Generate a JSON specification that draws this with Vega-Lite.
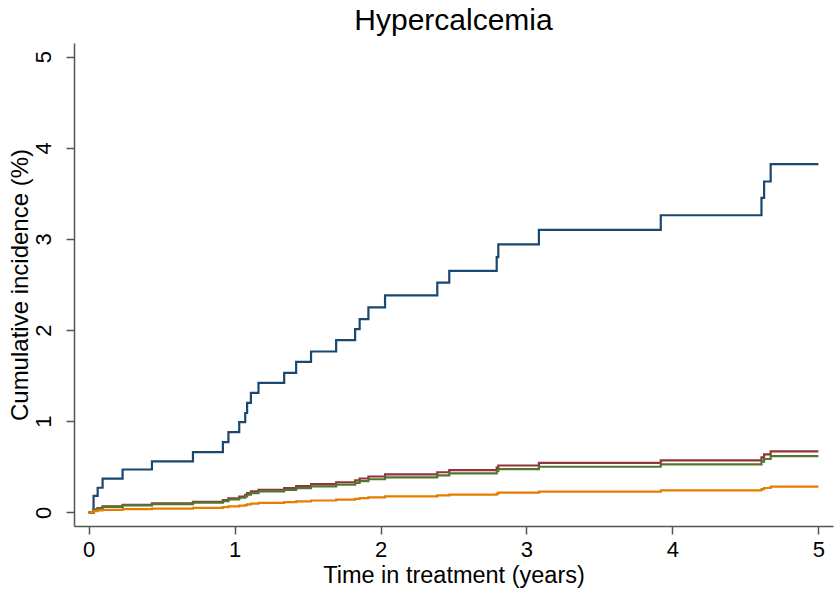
{
  "$schema": "https://vega.github.io/schema/vega-lite/v6.json",
  "autosize": "none",
  "width": 759,
  "height": 483,
  "padding": {"left": 74, "top": 43, "right": 5, "bottom": 70},
  "background": "white",
  "title": {"text": "Hypercalcemia", "fontSize": 30, "font": "Liberation Sans", "fontWeight": "normal", "color": "black", "anchor": "middle", "frame": "group", "baseline": "bottom", "offset": 4, "dy": 27},
  "config": {
    "view": {"stroke": null},
    "font": "Liberation Sans",
    "axis": {"grid": false, "domainColor": "#555", "domainWidth": 1.5, "tickColor": "#555", "tickWidth": 1.5, "tickSize": 8, "labelColor": "black", "titleColor": "black", "labelFontSize": 22, "titleFontSize": 23.5, "titleFontWeight": "normal", "labelFont": "Liberation Sans", "titleFont": "Liberation Sans"}
  },
  "data": {"values": [
    {"t": 0, "ci": 0, "g": "A"}, {"t": 0.034, "ci": 0.18, "g": "A"}, {"t": 0.062, "ci": 0.27, "g": "A"}, {"t": 0.096, "ci": 0.37, "g": "A"}, {"t": 0.233, "ci": 0.47, "g": "A"}, {"t": 0.434, "ci": 0.56, "g": "A"}, {"t": 0.715, "ci": 0.66, "g": "A"}, {"t": 0.92, "ci": 0.77, "g": "A"}, {"t": 0.958, "ci": 0.88, "g": "A"}, {"t": 1.032, "ci": 0.99, "g": "A"}, {"t": 1.073, "ci": 1.09, "g": "A"}, {"t": 1.086, "ci": 1.2, "g": "A"}, {"t": 1.112, "ci": 1.31, "g": "A"}, {"t": 1.164, "ci": 1.42, "g": "A"}, {"t": 1.34, "ci": 1.53, "g": "A"}, {"t": 1.422, "ci": 1.65, "g": "A"}, {"t": 1.524, "ci": 1.765, "g": "A"}, {"t": 1.696, "ci": 1.89, "g": "A"}, {"t": 1.826, "ci": 2.01, "g": "A"}, {"t": 1.857, "ci": 2.12, "g": "A"}, {"t": 1.917, "ci": 2.25, "g": "A"}, {"t": 2.031, "ci": 2.38, "g": "A"}, {"t": 2.389, "ci": 2.52, "g": "A"}, {"t": 2.471, "ci": 2.65, "g": "A"}, {"t": 2.796, "ci": 2.8, "g": "A"}, {"t": 2.807, "ci": 2.94, "g": "A"}, {"t": 3.085, "ci": 3.1, "g": "A"}, {"t": 3.92, "ci": 3.26, "g": "A"}, {"t": 4.61, "ci": 3.45, "g": "A"}, {"t": 4.628, "ci": 3.63, "g": "A"}, {"t": 4.673, "ci": 3.82, "g": "A"}, {"t": 5.0, "ci": 3.82, "g": "A"},
    {"t": 0, "ci": 0, "g": "B"}, {"t": 0.034, "ci": 0.031, "g": "B"}, {"t": 0.062, "ci": 0.047, "g": "B"}, {"t": 0.096, "ci": 0.065, "g": "B"}, {"t": 0.233, "ci": 0.082, "g": "B"}, {"t": 0.434, "ci": 0.098, "g": "B"}, {"t": 0.715, "ci": 0.115, "g": "B"}, {"t": 0.92, "ci": 0.135, "g": "B"}, {"t": 0.958, "ci": 0.154, "g": "B"}, {"t": 1.032, "ci": 0.173, "g": "B"}, {"t": 1.073, "ci": 0.191, "g": "B"}, {"t": 1.086, "ci": 0.21, "g": "B"}, {"t": 1.112, "ci": 0.229, "g": "B"}, {"t": 1.164, "ci": 0.248, "g": "B"}, {"t": 1.34, "ci": 0.267, "g": "B"}, {"t": 1.422, "ci": 0.288, "g": "B"}, {"t": 1.524, "ci": 0.309, "g": "B"}, {"t": 1.696, "ci": 0.33, "g": "B"}, {"t": 1.826, "ci": 0.351, "g": "B"}, {"t": 1.857, "ci": 0.371, "g": "B"}, {"t": 1.917, "ci": 0.393, "g": "B"}, {"t": 2.031, "ci": 0.416, "g": "B"}, {"t": 2.389, "ci": 0.44, "g": "B"}, {"t": 2.471, "ci": 0.463, "g": "B"}, {"t": 2.796, "ci": 0.49, "g": "B"}, {"t": 2.807, "ci": 0.514, "g": "B"}, {"t": 3.085, "ci": 0.542, "g": "B"}, {"t": 3.92, "ci": 0.57, "g": "B"}, {"t": 4.61, "ci": 0.603, "g": "B"}, {"t": 4.628, "ci": 0.635, "g": "B"}, {"t": 4.673, "ci": 0.668, "g": "B"}, {"t": 5.0, "ci": 0.668, "g": "B"},
    {"t": 0, "ci": 0, "g": "C"}, {"t": 0.034, "ci": 0.029, "g": "C"}, {"t": 0.062, "ci": 0.044, "g": "C"}, {"t": 0.096, "ci": 0.06, "g": "C"}, {"t": 0.233, "ci": 0.076, "g": "C"}, {"t": 0.434, "ci": 0.09, "g": "C"}, {"t": 0.715, "ci": 0.106, "g": "C"}, {"t": 0.92, "ci": 0.124, "g": "C"}, {"t": 0.958, "ci": 0.142, "g": "C"}, {"t": 1.032, "ci": 0.16, "g": "C"}, {"t": 1.073, "ci": 0.176, "g": "C"}, {"t": 1.086, "ci": 0.194, "g": "C"}, {"t": 1.112, "ci": 0.211, "g": "C"}, {"t": 1.164, "ci": 0.229, "g": "C"}, {"t": 1.34, "ci": 0.247, "g": "C"}, {"t": 1.422, "ci": 0.266, "g": "C"}, {"t": 1.524, "ci": 0.285, "g": "C"}, {"t": 1.696, "ci": 0.305, "g": "C"}, {"t": 1.826, "ci": 0.324, "g": "C"}, {"t": 1.857, "ci": 0.342, "g": "C"}, {"t": 1.917, "ci": 0.363, "g": "C"}, {"t": 2.031, "ci": 0.384, "g": "C"}, {"t": 2.389, "ci": 0.406, "g": "C"}, {"t": 2.471, "ci": 0.427, "g": "C"}, {"t": 2.796, "ci": 0.452, "g": "C"}, {"t": 2.807, "ci": 0.474, "g": "C"}, {"t": 3.085, "ci": 0.5, "g": "C"}, {"t": 3.92, "ci": 0.526, "g": "C"}, {"t": 4.61, "ci": 0.556, "g": "C"}, {"t": 4.628, "ci": 0.585, "g": "C"}, {"t": 4.673, "ci": 0.616, "g": "C"}, {"t": 5.0, "ci": 0.616, "g": "C"},
    {"t": 0, "ci": 0, "g": "D"}, {"t": 0.034, "ci": 0.013, "g": "D"}, {"t": 0.062, "ci": 0.02, "g": "D"}, {"t": 0.096, "ci": 0.027, "g": "D"}, {"t": 0.233, "ci": 0.035, "g": "D"}, {"t": 0.434, "ci": 0.041, "g": "D"}, {"t": 0.715, "ci": 0.049, "g": "D"}, {"t": 0.92, "ci": 0.057, "g": "D"}, {"t": 0.958, "ci": 0.065, "g": "D"}, {"t": 1.032, "ci": 0.073, "g": "D"}, {"t": 1.073, "ci": 0.08, "g": "D"}, {"t": 1.086, "ci": 0.088, "g": "D"}, {"t": 1.112, "ci": 0.096, "g": "D"}, {"t": 1.164, "ci": 0.104, "g": "D"}, {"t": 1.34, "ci": 0.113, "g": "D"}, {"t": 1.422, "ci": 0.121, "g": "D"}, {"t": 1.524, "ci": 0.13, "g": "D"}, {"t": 1.696, "ci": 0.139, "g": "D"}, {"t": 1.826, "ci": 0.148, "g": "D"}, {"t": 1.857, "ci": 0.156, "g": "D"}, {"t": 1.917, "ci": 0.165, "g": "D"}, {"t": 2.031, "ci": 0.175, "g": "D"}, {"t": 2.389, "ci": 0.185, "g": "D"}, {"t": 2.471, "ci": 0.195, "g": "D"}, {"t": 2.796, "ci": 0.206, "g": "D"}, {"t": 2.807, "ci": 0.216, "g": "D"}, {"t": 3.085, "ci": 0.228, "g": "D"}, {"t": 3.92, "ci": 0.24, "g": "D"}, {"t": 4.61, "ci": 0.254, "g": "D"}, {"t": 4.628, "ci": 0.267, "g": "D"}, {"t": 4.673, "ci": 0.281, "g": "D"}, {"t": 5.0, "ci": 0.281, "g": "D"}
  ]},
  "mark": {"type": "line", "interpolate": "step-after", "strokeWidth": 2.2},
  "encoding": {
    "x": {"field": "t", "type": "quantitative", "scale": {"domain": [-0.1, 5.1], "nice": false, "zero": false}, "axis": {"title": "Time in treatment (years)", "values": [0, 1, 2, 3, 4, 5], "format": "d", "labelPadding": 5, "titlePadding": 3}},
    "y": {"field": "ci", "type": "quantitative", "scale": {"domain": [-0.15, 5.15], "nice": false, "zero": false}, "axis": {"title": "Cumulative incidence (%)", "titleFontSize": 24, "values": [0, 1, 2, 3, 4, 5], "format": "d", "labelAngle": -90, "labelAlign": "center", "labelBaseline": "bottom", "labelPadding": 11, "titlePadding": 0}},
    "color": {"field": "g", "type": "nominal", "scale": {"domain": ["A", "B", "C", "D"], "range": ["#1a476f", "#90353b", "#55752f", "#e37e00"]}, "legend": null}
  }
}
